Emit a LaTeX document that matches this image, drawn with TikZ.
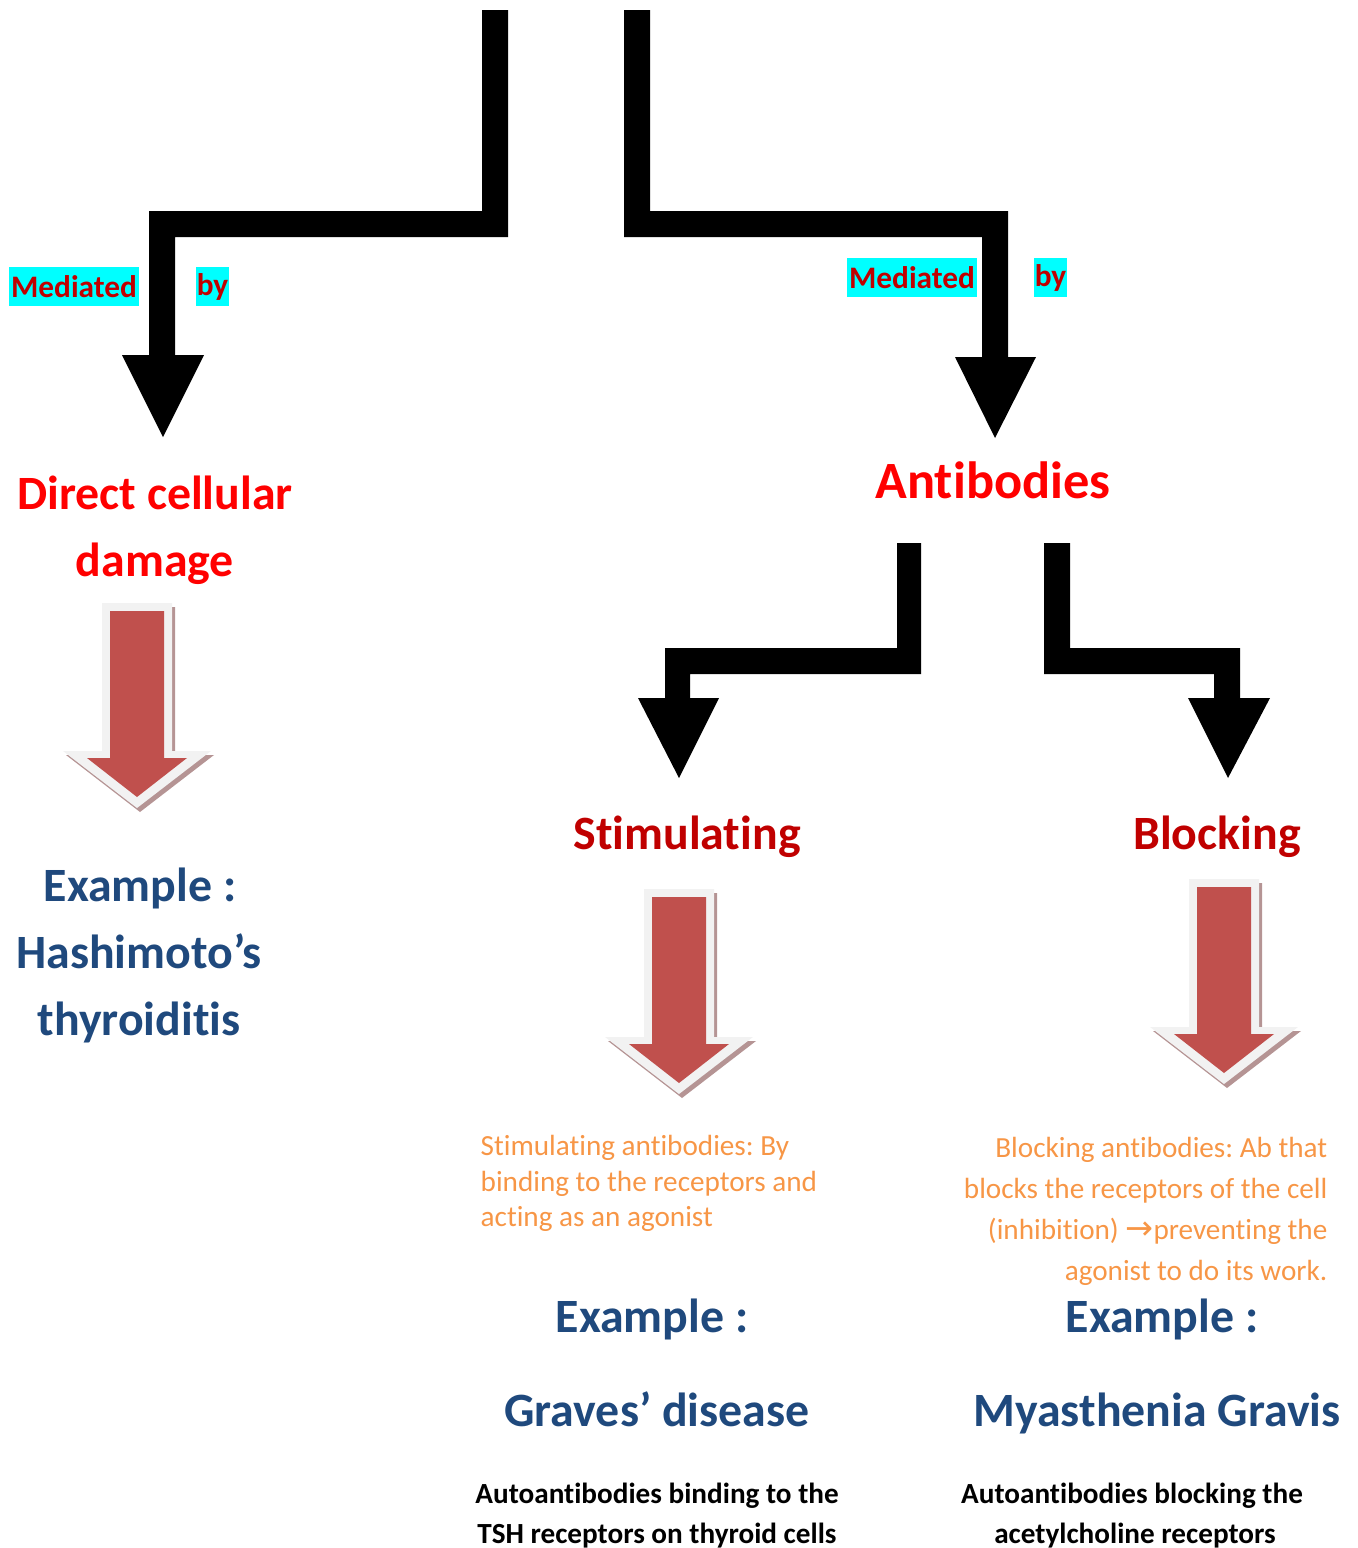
\documentclass[tikz,border=0pt]{standalone}
\usepackage{fontspec}
\setmainfont{Carlito}[RawFeature={-liga;-clig;-calt;-dlig}]
\newfontfamily\arrowfont{DejaVu Sans}
\frenchspacing
\newcommand\tI{t\kern0pt\relax i}
\definecolor{brightred}{HTML}{FF0000}
\definecolor{darkred}{HTML}{C00000}
\definecolor{navy}{HTML}{1F497D}
\definecolor{orangetxt}{HTML}{F79646}
\definecolor{cyanbg}{HTML}{00FFFF}
\definecolor{arrowred}{HTML}{C0504D}
\definecolor{arrowrim}{HTML}{F2F2F2}
\definecolor{arrowshadow}{HTML}{B59494}
\newcommand\redblockarrow[3]{%
  \fill[arrowshadow,shift={(3,4)}] ({#1-35},#2) -- ({#1+35},#2) -- ({#1+35},{#2+148}) -- ({#1+74},{#2+148}) -- (#1,{#2+205}) -- ({#1-74},{#2+148}) -- ({#1-35},{#2+148}) -- cycle;
  \fill[arrowrim] ({#1-35},#2) -- ({#1+35},#2) -- ({#1+35},{#2+148}) -- ({#1+74},{#2+148}) -- (#1,{#2+205}) -- ({#1-74},{#2+148}) -- ({#1-35},{#2+148}) -- cycle;
  \fill[arrowred] ({#1-27},{#2+8}) -- ({#1+27},{#2+8}) -- ({#1+27},{#2+155}) -- ({#1+50},{#2+155}) -- (#1,{#2+194}) -- ({#1-50},{#2+155}) -- ({#1-27},{#2+155}) -- cycle;
  \coordinate (#3) at (#1,{#2+100});
}
\tikzset{
  big/.style={font=\bfseries\fontsize{13.6}{19}\selectfont, inner sep=0pt, anchor=base},
  head/.style={big, text=darkred},
  example/.style={big, text=navy},
  mediated/.style={fill=cyanbg, text=darkred, font=\bfseries\fontsize{8.9}{11}\selectfont, inner sep=0pt, minimum height=0.39cm},
  note/.style={text=orangetxt, font=\fontsize{8.3}{10}\selectfont, inner sep=0pt},
  caption/.style={font=\bfseries\fontsize{8.3}{10}\selectfont, inner sep=0pt, anchor=base},
  blockarrow/.style={fill=black}
}
\begin{document}
\begin{tikzpicture}[x=0.01cm,y=-0.01cm]
\useasboundingbox (0,0) rectangle (1357,1548);
% black bent arrows
\fill[blockarrow] (482,10) -- (508,10) -- (508,237) -- (175,237) -- (175,355) -- (204,355) -- (163,437) -- (122,355) -- (149,355) -- (149,211) -- (482,211) -- cycle;
\fill[blockarrow] (624,10) -- (650,10) -- (650,211) -- (1008,211) -- (1008,357) -- (1036,357) -- (995,438) -- (955,357) -- (982,357) -- (982,237) -- (624,237) -- cycle;
\fill[blockarrow] (897,543) -- (921,543) -- (921,674) -- (690,674) -- (690,698) -- (719,698) -- (679,778) -- (638,698) -- (665,698) -- (665,648) -- (897,648) -- cycle;
\fill[blockarrow] (1044,543) -- (1070,543) -- (1070,648) -- (1240,648) -- (1240,698) -- (1270,698) -- (1228,778) -- (1188,698) -- (1214,698) -- (1214,674) -- (1044,674) -- cycle;
% mediated by labels
\node[mediated, minimum width=1.30cm] (med1) at (74,286.5) {Mediated};
\node[mediated, minimum width=0.33cm] (by1) at (212.5,286.5) {by};
\node[mediated, minimum width=1.30cm] (med2) at (912,277.5) {Mediated};
\node[mediated, minimum width=0.33cm] (by2) at (1050.5,277.5) {by};
% headings
\node[big, text=brightred] (dc1) at (155,509) {Direct cellular};
\node[big, text=brightred] (dc2) at (155,576) {damage};
\node[big, text=brightred, font=\bfseries\fontsize{14.9}{19}\selectfont] (ab) at (993,498) {An\tI bodies};
\node[head] (stim) at (687,849) {Stimula\tI ng};
\node[head] (block) at (1217,849) {Blocking};
% red block arrows
\redblockarrow{137}{603}{ra1}
\redblockarrow{679}{889}{ra2}
\redblockarrow{1224}{879}{ra3}
% left example
\node[example] (ex1) at (140,901) {Example :};
\node[example] (ha1) at (139,968) {Hashimoto’s};
\node[example] (ha2) at (139,1035) {thyroidi\tI s};
% orange notes
\node[note, anchor=base west] (s1) at (480,1155) {Stimula\tI ng an\tI bodies: By};
\node[note, anchor=base west] (s2) at (480,1191) {binding to the receptors and};
\node[note, anchor=base west] (s3) at (480,1226) {ac\tI ng as an agonist};
\node[note, anchor=base east] (b1) at (1328,1157) {Blocking an\tI bodies: Ab that};
\node[note, anchor=base east] (b2) at (1328,1198) {blocks the receptors of the cell};
\node[note, anchor=base east] (b3) at (1328,1239) {(inhibi\tI on) {\arrowfont\fontsize{9.5}{10}\selectfont →}preven\tI ng the};
\node[note, anchor=base east] (b4) at (1328,1280) {agonist to do its work.};
% examples
\node[example] (ex2) at (652,1332) {Example :};
\node[example] (ex3) at (1162,1332) {Example :};
\node[example] (gd) at (657,1426) {Graves’ disease};
\node[example] (mg) at (1157,1426) {Myasthenia Gravis};
% captions
\node[caption] (c1) at (657,1503) {Autoan\tI bodies binding to the};
\node[caption] (c2) at (657,1543) {TSH receptors on thyroid cells};
\node[caption] (c3) at (1132,1503) {Autoan\tI bodies blocking the};
\node[caption] (c4) at (1135,1543) {acetylcholine receptors};
\end{tikzpicture}
\end{document}
